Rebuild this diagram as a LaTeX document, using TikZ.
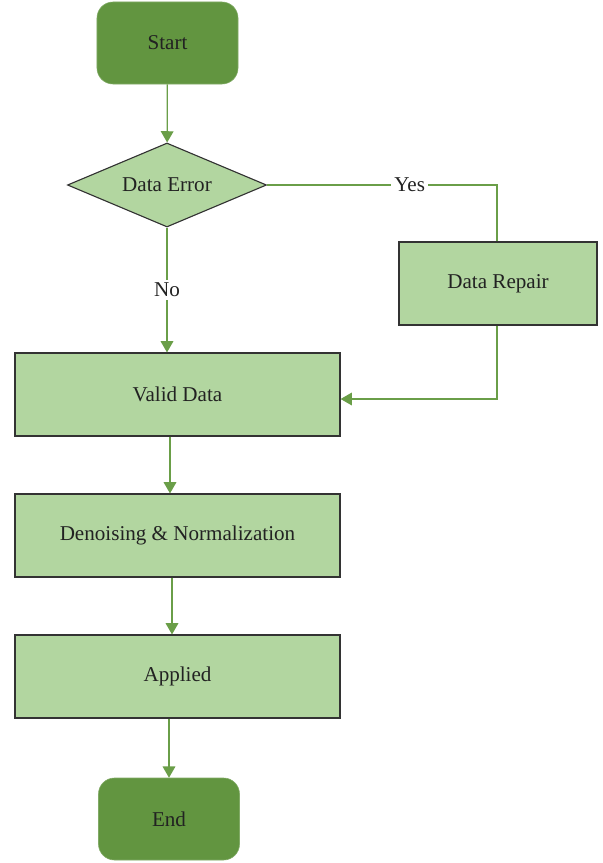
\documentclass[tikz,border=0pt]{standalone}
\usepackage{fontspec}
\setmainfont{Liberation Serif}
\usetikzlibrary{shapes.geometric,arrows.meta}
\definecolor{dgreen}{HTML}{629540}
\definecolor{lgreen}{HTML}{B2D6A0}
\definecolor{lline}{HTML}{6A9E48}
\definecolor{dgrey}{HTML}{333333}
\definecolor{dtext}{HTML}{222222}

\begin{document}
\begin{tikzpicture}[x=0.025cm, y=-0.025cm,
    every node/.style={font=\fontsize{15}{17}\selectfont, text=dtext},
    term/.style={rectangle, rounded corners=0.4cm, fill=dgreen, draw=dgreen!80!white,
        minimum width=3.525cm, minimum height=2.05cm},
    procbox/.style={rectangle, fill=lgreen, draw=dgrey, thick,
        minimum width=8.125cm, minimum height=2.075cm},
    flow/.style={lline, line width=0.9pt, -{Triangle[length=8pt,width=9pt]}}]
\useasboundingbox (0,0) rectangle (603,863);
% terminals
\node[term] (start) at (167.5,43) {Start};
\node[term] (end) at (169,819) {End};
% decision
\node[diamond, aspect=2.37, fill=lgreen, draw=dgrey, thick, inner sep=0pt,
    minimum width=4.975cm, minimum height=2.1cm] (err) at (167,185) {Data Error};
\node[procbox, minimum width=4.95cm] (repair) at (498,283.5) {Data Repair};
% main column
\node[procbox] (valid) at (177.5,394.5) {Valid Data};
\node[procbox] (norm) at (177.5,535.5) {Denoising \& Normalization};
\node[procbox] (appl) at (177.5,676.5) {Applied};
% connectors
\draw[flow] (start) -- (err);
\draw[flow] (err.south) -- node[fill=white, inner sep=2pt] (no) {No} (err.south |- valid.north);
\coordinate (ycorner) at (497,185);
\coordinate (rcorner) at (497,399);
\draw[lline, line width=0.9pt] (err.east) -- node[fill=white, inner sep=2pt, pos=0.62] (yes) {Yes} (ycorner) -- (repair.north -| ycorner);
\draw[flow] (repair.south -| rcorner) -- (rcorner) -- (valid.east |- rcorner);
\draw[flow] (valid.south -| 170,0) -- (norm.north -| 170,0);
\draw[flow] (norm.south -| 172,0) -- (appl.north -| 172,0);
\draw[flow] (appl.south -| 169,0) -- (end.north);
\end{tikzpicture}
\end{document}
